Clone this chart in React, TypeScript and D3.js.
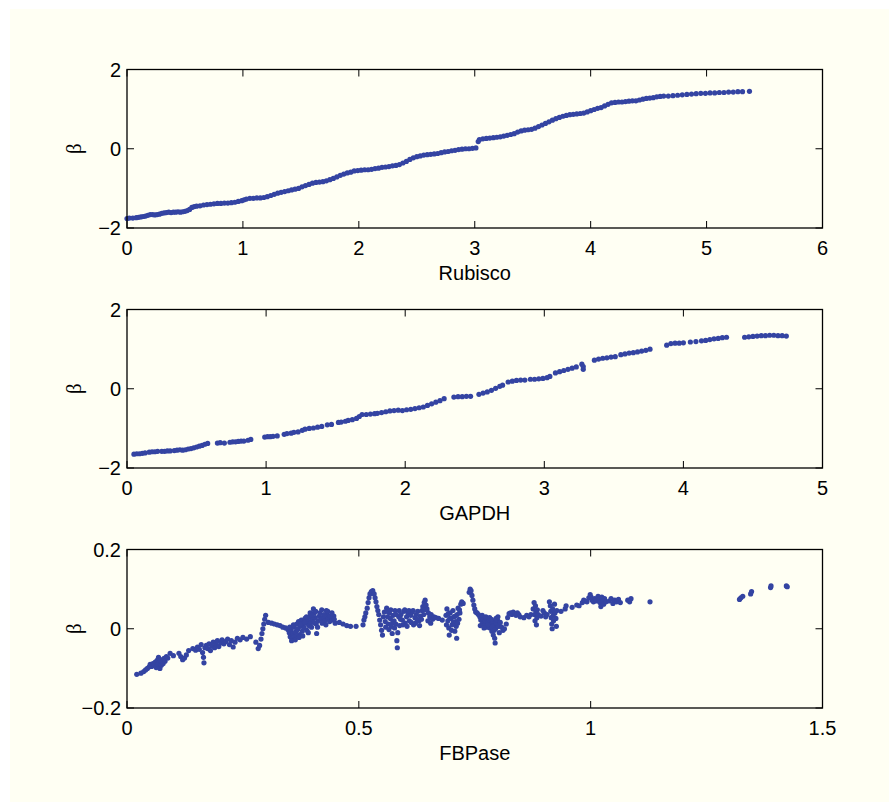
import React from 'react';
import * as d3 from 'd3';

// ---------- data ----------
const rubisco: [number, number][] = [
[0.00,-1.76],[0.02,-1.75],[0.05,-1.75],[0.08,-1.74],[0.10,-1.73],[0.12,-1.72],[0.14,-1.71],[0.16,-1.70],[0.18,-1.68],[0.20,-1.66],
[0.22,-1.66],[0.24,-1.67],[0.26,-1.66],[0.28,-1.65],[0.30,-1.63],[0.32,-1.62],[0.34,-1.61],[0.36,-1.60],[0.38,-1.61],[0.40,-1.60],
[0.42,-1.60],[0.44,-1.59],[0.46,-1.60],[0.48,-1.59],[0.50,-1.58],[0.52,-1.56],[0.54,-1.53],[0.56,-1.48],[0.58,-1.46],[0.60,-1.45],
[0.63,-1.44],[0.66,-1.42],[0.69,-1.41],[0.72,-1.40],[0.75,-1.39],[0.78,-1.38],[0.81,-1.38],[0.84,-1.37],[0.87,-1.37],[0.90,-1.36],
[0.93,-1.35],[0.96,-1.33],[0.99,-1.31],[1.01,-1.29],[1.03,-1.27],[1.06,-1.25],[1.09,-1.25],[1.12,-1.24],[1.15,-1.24],[1.18,-1.23],
[1.21,-1.21],[1.24,-1.18],[1.27,-1.15],[1.30,-1.12],[1.33,-1.10],[1.36,-1.08],[1.39,-1.06],[1.42,-1.04],[1.45,-1.02],[1.48,-1.00],
[1.51,-0.96],[1.54,-0.93],[1.57,-0.90],[1.60,-0.87],[1.63,-0.85],[1.66,-0.84],[1.69,-0.83],[1.72,-0.81],[1.75,-0.78],[1.78,-0.75],
[1.81,-0.71],[1.84,-0.67],[1.87,-0.64],[1.90,-0.61],[1.93,-0.59],[1.96,-0.56],[1.99,-0.55],[2.02,-0.54],[2.05,-0.53],[2.08,-0.53],
[2.11,-0.52],[2.14,-0.50],[2.17,-0.49],[2.20,-0.47],[2.23,-0.46],[2.26,-0.45],[2.29,-0.43],[2.32,-0.42],[2.35,-0.40],[2.38,-0.36],
[2.41,-0.32],[2.44,-0.27],[2.47,-0.23],[2.50,-0.20],[2.53,-0.18],[2.56,-0.16],[2.59,-0.15],[2.62,-0.14],[2.65,-0.13],[2.68,-0.12],
[2.71,-0.10],[2.74,-0.08],[2.77,-0.07],[2.80,-0.05],[2.83,-0.04],[2.86,-0.02],[2.89,-0.01],[2.92,0.00],[2.95,0.00],[2.98,0.01],
[3.01,0.02],[3.03,0.18],[3.04,0.23],[3.07,0.25],[3.10,0.26],[3.13,0.27],[3.16,0.28],[3.19,0.29],[3.22,0.30],[3.25,0.32],
[3.28,0.34],[3.31,0.36],[3.34,0.38],[3.37,0.42],[3.40,0.45],[3.43,0.47],[3.46,0.48],[3.49,0.49],[3.52,0.52],[3.55,0.56],
[3.58,0.60],[3.61,0.64],[3.64,0.68],[3.67,0.72],[3.70,0.76],[3.73,0.79],[3.76,0.82],[3.79,0.84],[3.82,0.86],[3.85,0.87],
[3.88,0.88],[3.91,0.89],[3.94,0.90],[3.97,0.93],[4.00,0.96],[4.03,0.99],[4.06,1.02],[4.09,1.04],[4.12,1.08],[4.15,1.12],
[4.18,1.16],[4.21,1.17],[4.24,1.18],[4.27,1.18],[4.30,1.19],[4.33,1.20],[4.36,1.21],[4.39,1.21],[4.42,1.23],[4.45,1.25],
[4.48,1.27],[4.51,1.28],[4.54,1.29],[4.57,1.31],[4.60,1.32],[4.63,1.33],[4.67,1.33],[4.71,1.34],[4.75,1.35],[4.79,1.36],
[4.83,1.37],[4.87,1.38],[4.91,1.39],[4.95,1.40],[4.99,1.40],[5.03,1.41],[5.07,1.41],[5.11,1.42],[5.15,1.42],[5.19,1.43],
[5.23,1.43],[5.27,1.44],[5.31,1.44],[5.37,1.45]
];

const gapdh: [number, number][] = [
[0.05,-1.65],[0.07,-1.64],[0.09,-1.64],[0.11,-1.63],[0.13,-1.62],[0.16,-1.60],[0.18,-1.59],[0.20,-1.59],[0.22,-1.58],[0.25,-1.58],
[0.27,-1.58],[0.29,-1.57],[0.31,-1.57],[0.34,-1.56],[0.36,-1.55],[0.38,-1.54],[0.40,-1.55],[0.42,-1.54],[0.44,-1.52],[0.46,-1.51],
[0.48,-1.49],[0.50,-1.47],[0.52,-1.45],[0.54,-1.43],[0.56,-1.40],[0.58,-1.38],
[0.65,-1.37],[0.67,-1.36],[0.70,-1.37],
[0.74,-1.35],[0.76,-1.34],[0.78,-1.34],[0.80,-1.33],[0.82,-1.32],[0.84,-1.32],[0.87,-1.30],[0.89,-1.28],
[0.99,-1.22],[1.01,-1.21],[1.03,-1.21],[1.05,-1.20],[1.08,-1.19],
[1.13,-1.15],[1.15,-1.13],[1.18,-1.12],[1.20,-1.10],[1.23,-1.09],[1.26,-1.05],[1.28,-1.02],[1.31,-1.00],[1.34,-0.99],[1.37,-0.97],[1.40,-0.95],
[1.44,-0.91],[1.47,-0.90],
[1.52,-0.85],[1.54,-0.84],[1.57,-0.82],[1.59,-0.80],[1.62,-0.78],[1.65,-0.75],[1.67,-0.70],[1.69,-0.65],
[1.72,-0.65],[1.75,-0.64],[1.78,-0.63],[1.80,-0.62],[1.83,-0.60],[1.86,-0.58],[1.89,-0.56],[1.92,-0.55],[1.95,-0.54],[1.98,-0.55],
[2.01,-0.53],[2.04,-0.52],[2.07,-0.50],[2.10,-0.48],[2.13,-0.46],[2.16,-0.42],[2.19,-0.38],[2.22,-0.34],[2.25,-0.30],[2.28,-0.25],
[2.35,-0.21],[2.38,-0.20],[2.41,-0.20],[2.44,-0.19],[2.47,-0.19],
[2.53,-0.14],[2.56,-0.11],[2.59,-0.08],[2.62,-0.04],[2.65,0.01],[2.68,0.06],[2.70,0.09],
[2.74,0.17],[2.77,0.19],[2.80,0.21],[2.83,0.22],[2.86,0.22],
[2.90,0.24],[2.93,0.24],[2.96,0.25],[2.99,0.26],[3.02,0.28],[3.04,0.31],
[3.08,0.40],[3.11,0.43],[3.14,0.46],[3.17,0.49],[3.20,0.52],[3.23,0.55],[3.27,0.62],[3.28,0.56],[3.28,0.49],
[3.36,0.72],[3.39,0.75],[3.42,0.77],[3.45,0.78],[3.48,0.80],[3.51,0.81],
[3.55,0.86],[3.58,0.88],[3.61,0.90],[3.64,0.91],[3.67,0.93],[3.70,0.95],[3.73,0.97],[3.76,1.00],
[3.88,1.10],[3.91,1.14],[3.94,1.15],[3.97,1.15],[4.00,1.16],
[4.05,1.18],[4.09,1.19],[4.13,1.21],[4.16,1.22],[4.19,1.24],[4.22,1.26],[4.25,1.27],[4.28,1.29],[4.31,1.30],
[4.44,1.30],[4.47,1.31],[4.50,1.32],[4.53,1.33],[4.56,1.34],[4.59,1.34],[4.62,1.35],[4.65,1.35],[4.68,1.34],[4.71,1.34],[4.74,1.33]
];

const fbpase: [number, number][] = [
[0.021,-0.115],[0.030,-0.112],[0.036,-0.108],[0.040,-0.104],[0.044,-0.100],[0.048,-0.096],[0.050,-0.090],[0.053,-0.095],[0.056,-0.088],
[0.059,-0.092],[0.061,-0.084],[0.063,-0.098],[0.065,-0.080],[0.066,-0.090],[0.068,-0.072],[0.069,-0.086],[0.071,-0.100],[0.072,-0.078],
[0.074,-0.092],[0.076,-0.083],[0.078,-0.088],[0.080,-0.075],[0.082,-0.082],[0.085,-0.070],[0.088,-0.074],[0.093,-0.062],[0.100,-0.068],
[0.112,-0.062],[0.116,-0.070],[0.120,-0.078],[0.124,-0.074],[0.128,-0.066],[0.133,-0.055],
[0.142,-0.050],[0.148,-0.054],[0.152,-0.046],[0.156,-0.052],[0.160,-0.040],[0.163,-0.060],[0.165,-0.072],[0.166,-0.086],[0.168,-0.048],
[0.171,-0.042],[0.174,-0.050],[0.177,-0.038],[0.180,-0.055],[0.183,-0.044],[0.186,-0.034],[0.189,-0.048],[0.192,-0.040],[0.195,-0.030],
[0.198,-0.045],[0.202,-0.036],[0.205,-0.028],[0.209,-0.038],[0.213,-0.032],[0.217,-0.026],[0.221,-0.040],[0.225,-0.030],[0.229,-0.046],
[0.233,-0.034],[0.238,-0.024],[0.244,-0.028],[0.250,-0.022],[0.258,-0.026],[0.266,-0.020],
[0.278,-0.034],[0.283,-0.050],[0.286,-0.042],[0.289,-0.026],[0.291,-0.012],[0.293,0.000],[0.295,0.012],[0.297,0.024],[0.299,0.034],
[0.305,0.016],[0.312,0.014],[0.318,0.012],[0.324,0.010],[0.330,0.008],[0.336,0.004],[0.342,0.002],[0.347,-0.002],
[0.350,-0.010],[0.352,-0.020],[0.354,-0.005],[0.356,-0.025],[0.358,-0.012],[0.360,0.004],[0.362,-0.018],[0.364,-0.008],[0.366,0.012],
[0.368,-0.002],[0.370,0.018],[0.372,-0.015],[0.374,0.006],[0.376,0.022],[0.378,-0.006],[0.380,0.010],[0.382,0.002],[0.384,0.026],
[0.386,0.014],[0.388,-0.004],[0.390,0.020],[0.392,0.008],[0.394,0.030],[0.396,0.016],[0.398,0.004],[0.400,0.024],[0.402,0.050],
[0.404,0.040],[0.406,0.028],[0.408,0.012],[0.409,-0.012],[0.412,0.020],[0.415,0.032],[0.418,0.024],[0.421,0.014],[0.424,0.028],
[0.427,0.020],[0.430,0.046],[0.432,0.036],[0.434,0.026],[0.437,0.018],[0.440,0.030],[0.443,0.022],[0.446,0.032],[0.449,0.014],
[0.351,0.004],[0.355,-0.030],[0.359,0.010],[0.363,-0.028],[0.367,0.000],[0.371,-0.022],[0.375,0.012],[0.379,-0.018],[0.383,0.016],
[0.387,0.030],[0.391,-0.010],[0.395,0.040],[0.399,0.034],[0.403,0.016],[0.407,0.044],[0.411,0.004],[0.416,0.040],[0.420,0.048],
[0.425,0.036],[0.429,0.010],[0.433,0.044],[0.438,0.032],[0.442,0.040],[0.447,0.024],
[0.458,0.016],[0.466,0.012],[0.474,0.008],[0.482,0.006],[0.494,0.006],
[0.509,0.010],[0.511,0.022],[0.513,0.030],[0.515,0.040],[0.518,0.052],[0.520,0.066],[0.522,0.078],[0.524,0.088],[0.527,0.094],
[0.530,0.096],[0.533,0.088],[0.535,0.078],[0.537,0.068],[0.539,0.056],[0.541,0.046],[0.543,0.036],[0.545,0.022],[0.547,0.010],
[0.549,-0.004],[0.551,-0.016],[0.553,0.030],[0.555,0.042],
[0.557,0.018],[0.560,0.052],[0.562,0.030],[0.564,0.012],[0.566,0.040],[0.568,0.026],[0.570,0.006],[0.572,-0.012],[0.574,0.034],
[0.576,0.020],[0.578,0.046],[0.580,0.012],[0.582,-0.030],[0.583,-0.048],[0.584,-0.010],[0.586,0.030],[0.588,0.008],
[0.591,0.036],[0.594,0.022],[0.597,0.044],[0.600,0.014],[0.603,0.030],[0.606,0.040],[0.609,0.020],[0.612,0.034],[0.615,0.042],
[0.618,0.010],[0.621,0.028],[0.624,0.036],[0.627,0.044],[0.630,0.020],[0.633,0.032],[0.636,0.046],[0.638,0.056],[0.641,0.066],
[0.643,0.072],[0.645,0.060],[0.647,0.050],[0.650,0.040],[0.653,0.030],[0.656,0.036],[0.659,0.024],[0.662,0.030],[0.666,0.028],
[0.672,0.026],[0.680,0.022],
[0.558,0.004],[0.561,0.044],[0.565,-0.002],[0.569,0.048],[0.573,0.016],[0.577,0.002],[0.581,0.036],[0.587,0.046],[0.590,0.024],
[0.595,0.010],[0.599,0.048],[0.604,0.006],[0.608,0.046],[0.613,0.016],[0.617,0.046],[0.622,0.014],[0.626,0.024],[0.631,0.008],
[0.635,0.024],[0.640,0.036],[0.644,0.048],[0.649,0.020],[0.655,0.014],
[0.688,0.034],[0.690,0.050],[0.692,0.020],[0.694,0.002],[0.695,-0.016],[0.697,0.040],[0.699,0.026],[0.701,0.010],[0.703,0.046],
[0.705,0.030],[0.707,-0.006],[0.709,0.018],[0.711,-0.024],[0.712,0.036],[0.714,0.052],[0.716,0.024],[0.718,0.040],[0.720,0.062],
[0.722,0.068],[0.725,0.064],
[0.689,0.010],[0.693,0.038],[0.696,0.026],[0.700,-0.004],[0.704,0.016],[0.708,0.032],[0.710,0.006],[0.713,0.014],[0.717,0.048],
[0.738,0.092],[0.740,0.100],[0.742,0.096],[0.744,0.084],[0.746,0.072],[0.748,0.060],[0.750,0.050],[0.752,0.042],[0.755,0.040],[0.758,0.036],
[0.761,0.030],[0.763,0.022],[0.765,0.028],[0.767,0.014],[0.769,0.024],[0.771,0.010],[0.773,0.020],[0.775,0.026],[0.777,0.004],
[0.779,0.016],[0.781,0.022],[0.783,0.002],[0.785,0.012],[0.787,-0.006],[0.789,0.018],[0.790,-0.016],[0.791,0.008],[0.793,-0.024],
[0.794,-0.036],[0.795,0.000],[0.797,0.014],[0.799,0.022],[0.801,0.006],[0.803,-0.010],[0.805,0.016],[0.808,0.004],[0.811,-0.004],[0.814,0.000],
[0.762,0.008],[0.766,0.034],[0.770,0.002],[0.774,0.030],[0.778,0.010],[0.782,0.028],[0.786,0.024],[0.788,0.004],[0.792,-0.004],
[0.796,0.026],[0.800,0.030],
[0.818,0.012],[0.821,0.028],[0.824,0.038],[0.827,0.040],[0.830,0.036],[0.833,0.042],[0.836,0.038],[0.839,0.034],[0.842,0.040],
[0.845,0.036],[0.848,0.030],[0.856,0.028],[0.862,0.034],[0.867,0.030],[0.871,0.036],
[0.876,0.050],[0.878,0.066],[0.879,0.036],[0.880,0.020],[0.881,0.058],[0.882,0.044],[0.883,0.010],[0.884,0.028],[0.885,0.048],[0.887,0.036],
[0.893,0.032],[0.897,0.046],[0.900,0.040],[0.903,0.030],[0.906,0.036],
[0.911,0.068],[0.913,0.058],[0.914,0.044],[0.915,0.028],[0.916,0.012],[0.917,0.000],[0.918,0.050],[0.919,0.034],[0.920,0.020],
[0.922,0.062],[0.923,0.040],[0.925,0.026],[0.926,0.006],[0.927,0.046],
[0.936,0.044],[0.945,0.050],[0.947,0.058],[0.960,0.054],[0.970,0.060],[0.975,0.058],
[0.982,0.066],[0.985,0.072],[0.988,0.070],[0.992,0.068],[0.996,0.078],[0.999,0.086],[1.001,0.080],[1.003,0.072],[1.006,0.068],
[1.009,0.076],[1.012,0.070],[1.016,0.082],[1.018,0.074],[1.020,0.066],[1.022,0.056],[1.024,0.080],[1.026,0.070],[1.028,0.062],
[1.030,0.076],[1.033,0.068],[1.040,0.070],[1.044,0.076],[1.048,0.064],[1.052,0.072],[1.056,0.068],[1.060,0.074],[1.064,0.066],
[1.080,0.072],[1.084,0.068],[1.087,0.076],
[1.128,0.068],
[1.321,0.074],[1.324,0.078],[1.328,0.082],[1.345,0.088],[1.347,0.094],[1.388,0.104],[1.389,0.108],[1.422,0.108],[1.424,0.106]
];

const rubiscoXTicks = [0, 1, 2, 3, 4, 5, 6];
const gapdhXTicks = [0, 1, 2, 3, 4, 5];
const fbpaseXTicks = [0, 0.5, 1, 1.5];
const betaTicksLarge = [-2, 0, 2];
const betaTicksSmall = [-0.2, 0, 0.2];
const xLabels = ['Rubisco', 'GAPDH', 'FBPase'];
const yLabel = '\u03B2';

// ---------- layout / style ----------
const W = 889;
const H = 802;
const LEFT = 127;
const RIGHT = 822.5;
const PANEL_H = 158.5;
const TOPS = [69.5, 309.5, 549.5];
const DOT = '#3444a2';
const BG = '#fffff3';
const FONT = "'Liberation Sans', Arial, Helvetica, sans-serif";
const TICK = 7;

const fmt = (v: number) => (v < 0 ? '\u2212' : '') + String(Math.abs(v));

type PanelProps = {
  data: [number, number][];
  xTicks: number[];
  yTicks: number[];
  label: string;
  top: number;
};

function Panel({ data, xTicks, yTicks, label, top }: PanelProps) {
  const bottom = top + PANEL_H;
  const x = d3.scaleLinear().domain(d3.extent(xTicks) as [number, number]).range([LEFT, RIGHT]);
  const y = d3.scaleLinear().domain(d3.extent(yTicks) as [number, number]).range([bottom, top]);
  const midY = (top + bottom) / 2;
  return (
    <g>
      {data.map((d, i) => (
        <circle key={i} cx={x(d[0])} cy={y(d[1])} r={2.6} fill={DOT} />
      ))}
      <rect x={LEFT} y={top} width={RIGHT - LEFT} height={PANEL_H} fill="none" stroke="#000" strokeWidth={1.3} />
      {xTicks.map((t, i) => (
        <g key={'x' + i}>
          <line x1={x(t)} x2={x(t)} y1={bottom} y2={bottom - TICK} stroke="#000" strokeWidth={1} />
          <line x1={x(t)} x2={x(t)} y1={top} y2={top + TICK} stroke="#000" strokeWidth={1} />
          <text x={x(t)} y={bottom + 27} textAnchor="middle" fontSize={20} fontFamily={FONT} fill="#000">
            {fmt(t)}
          </text>
        </g>
      ))}
      {yTicks.map((t, i) => (
        <g key={'y' + i}>
          <line x1={LEFT} x2={LEFT + TICK} y1={y(t)} y2={y(t)} stroke="#000" strokeWidth={1} />
          <line x1={RIGHT} x2={RIGHT - TICK} y1={y(t)} y2={y(t)} stroke="#000" strokeWidth={1} />
          <text x={LEFT - 6} y={y(t) + 7} textAnchor="end" fontSize={20} fontFamily={FONT} fill="#000">
            {fmt(t)}
          </text>
        </g>
      ))}
      <text x={(LEFT + RIGHT) / 2} y={bottom + 52} textAnchor="middle" fontSize={20} fontFamily={FONT} fill="#000">
        {label}
      </text>
      <text
        transform={`translate(81,${midY}) rotate(-90)`}
        textAnchor="middle"
        fontSize={21}
        fontFamily="'Liberation Serif', 'DejaVu Serif', serif"
        fill="#000"
      >
        {yLabel}
      </text>
    </g>
  );
}

export default function App() {
  return (
    <svg
      width={W}
      height={H}
      style={{ position: 'absolute', left: 0, top: 0, display: 'block' }}
      xmlns="http://www.w3.org/2000/svg"
    >
      <rect x={0} y={0} width={W} height={H} fill="#ffffff" />
      <rect x={10} y={9} width={W - 10} height={H - 9} fill={BG} />
      <Panel data={rubisco} xTicks={rubiscoXTicks} yTicks={betaTicksLarge} label={xLabels[0]} top={TOPS[0]} />
      <Panel data={gapdh} xTicks={gapdhXTicks} yTicks={betaTicksLarge} label={xLabels[1]} top={TOPS[1]} />
      <Panel data={fbpase} xTicks={fbpaseXTicks} yTicks={betaTicksSmall} label={xLabels[2]} top={TOPS[2]} />
    </svg>
  );
}
